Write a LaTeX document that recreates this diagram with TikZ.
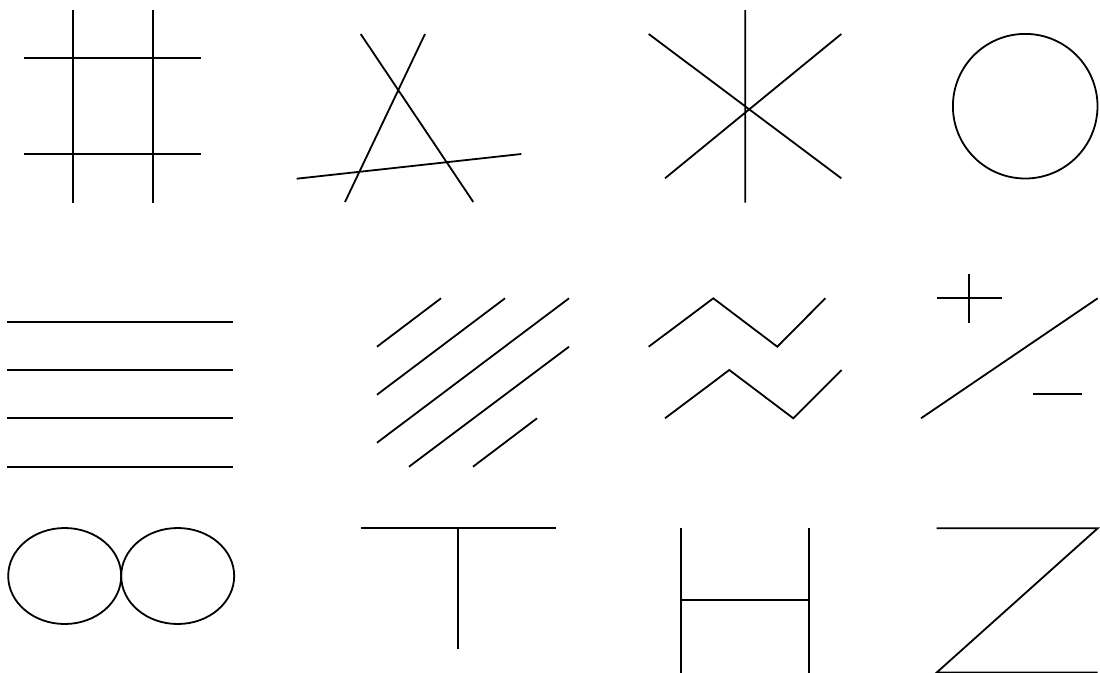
\documentclass[tikz,border=0pt]{standalone}
\begin{document}
\begin{tikzpicture}[x=1pt,y=-1pt,stroke/.style={line width=1.8pt,black}]
\useasboundingbox (0,0) rectangle (1100,672);
% grid
\draw[stroke] (72.7,10) -- (72.7,202.7) (152.7,10) -- (152.7,202.7)
  (24.3,58.3) -- (201.3,58.3) (24.3,154) -- (201.3,154);
% A
\draw[stroke] (360.7,34) -- (473.3,202) (425,34) -- (345,202)
  (296.7,178.7) -- (521.3,154);
% star
\draw[stroke] (745.3,10) -- (745.3,202.7) (648.7,34) -- (841.3,178.3)
  (665,178.3) -- (841.3,34);
% circle
\draw[stroke] (1025.2,106.2) circle (72.3);
% horizontal lines
\foreach \y in {322.3,370,418.3,466.7}
  \draw[stroke] (7.3,\y) -- (233.3,\y);
% hatching
\draw[stroke] (377,346.7) -- (441,298.3) (377,394.7) -- (505,298.3)
  (377,442.7) -- (569,298.3) (409,466.7) -- (569,346.7)
  (473,466.7) -- (537,418.3);
% zigzags
\draw[stroke] (648.7,346.7) -- (713.3,298.3) -- (777.3,346.7) -- (825.3,298.3);
\draw[stroke] (665,418.3) -- (729.3,370) -- (793.3,418.3) -- (841.7,370);
% plus / minus
\draw[stroke] (936.7,298.3) -- (1001.7,298.3) (969.3,274) -- (969.3,322.7);
\draw[stroke] (921,418.3) -- (1097.7,298.3);
\draw[stroke] (1032.7,394.3) -- (1081.7,394.3);
% ellipses
\draw[stroke] (64.7,576) ellipse [x radius=56.5,y radius=48];
\draw[stroke] (177.7,576) ellipse [x radius=56.5,y radius=48];
% T
\draw[stroke] (360.5,528) -- (556,528) (458,528) -- (458,648.7);
% H
\draw[stroke] (681,528.3) -- (681,680) (809.3,528.3) -- (809.3,680)
  (681,600) -- (809.3,600);
% Z
\draw[stroke] (936.7,528.3) -- (1097.7,528.3) -- (936.7,672.5) -- (1097.7,672.5);
\end{tikzpicture}
\end{document}
